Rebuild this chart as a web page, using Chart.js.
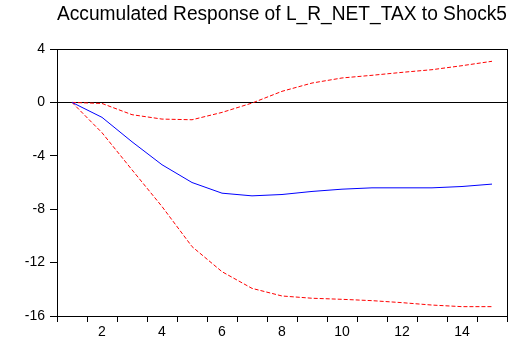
<!DOCTYPE html>
<html>
<head>
<meta charset="utf-8">
<script src="https://cdn.jsdelivr.net/npm/chart.js@4"></script>
<style>
  html, body { margin: 0; padding: 0; background: #fff; }
  #wrap { width: 525px; height: 341px; }
</style>
</head>
<body>
<div id="wrap"><canvas id="irfChart"></canvas></div>
<script>
// periods 1..15
const periods = ['1','2','3','4','5','6','7','8','9','10','11','12','13','14','15'];
// accumulated response (blue)
const response = [0, -1.12, -2.95, -4.67, -6.0, -6.8, -7.0, -6.9, -6.67, -6.5, -6.4, -6.4, -6.4, -6.3, -6.12];
// +/- 2 S.E. bands (red dashed)
const upperBand = [0, -0.08, -0.92, -1.25, -1.3, -0.75, -0.05, 0.83, 1.45, 1.83, 2.03, 2.25, 2.45, 2.75, 3.08];
const lowerBand = [0, -2.27, -5.05, -7.8, -10.8, -12.68, -13.93, -14.5, -14.67, -14.75, -14.85, -15.0, -15.18, -15.3, -15.3];
const yTicks = [4, 0, -4, -8, -12, -16];

const font = { family: '"Liberation Sans", Arial, sans-serif', size: 14 };

// rahmen um den plotbereich
const frame = {
    id: 'frame',
    afterDraw(chart) {
        const a = chart.chartArea, c = chart.ctx;
        c.save();
        c.strokeStyle = '#000';
        c.lineWidth = 1;
        c.strokeRect(Math.round(a.left) + 0.5, Math.round(a.top) + 0.5,
            Math.round(a.right - a.left), Math.round(a.bottom - a.top));
        c.restore();
    }
};

new Chart(document.getElementById('irfChart').getContext('2d'), {
    type: 'line',
    data: {
        labels: periods,
        datasets: [
            { data: response, borderColor: '#0000ff', borderWidth: 1, pointRadius: 0, tension: 0, fill: false },
            { data: upperBand, borderColor: '#ff0000', borderWidth: 1, borderDash: [4, 2], pointRadius: 0, tension: 0, fill: false },
            { data: lowerBand, borderColor: '#ff0000', borderWidth: 1, borderDash: [4, 2], pointRadius: 0, tension: 0, fill: false }
        ]
    },
    options: {
        responsive: true,
        maintainAspectRatio: false,
        animation: false,
        events: [],
        layout: { padding: { left: 0, right: 18, top: 0, bottom: 0 } },
        plugins: {
            legend: { display: false },
            tooltip: { enabled: false },
            title: {
                display: true,
                text: 'Accumulated Response of L_R_NET_TAX to Shock5',
                color: '#000',
                fullSize: false,
                font: { family: font.family, size: 20, weight: 'normal' },
                padding: { top: 2, bottom: 23 }
            }
        },
        scales: {
            x: {
                type: 'category',
                offset: true,
                grid: { display: true, offset: true, drawOnChartArea: false, drawTicks: true, tickLength: 6, color: '#000', tickColor: '#000' },
                border: { display: true, color: '#000' },
                ticks: {
                    autoSkip: false, maxRotation: 0, color: '#000', font: font, padding: 2,
                    callback: (v, i) => ((i + 1) % 2 === 0 ? periods[i] : '')
                },
                afterFit: s => { s.height = 25; }
            },
            y: {
                min: -16, max: 4,
                afterBuildTicks: s => { s.ticks = yTicks.map(v => ({ value: v })); },
                grid: {
                    display: true, drawTicks: true, tickLength: 7,
                    color: ctx => (ctx.tick && ctx.tick.value === 0 ? '#000' : 'rgba(0,0,0,0)'),
                    tickColor: '#000'
                },
                border: { display: true, color: '#000' },
                ticks: { color: '#000', font: font, padding: 5 },
                afterFit: s => { s.width = 57; }
            }
        }
    },
    plugins: [frame]
});
</script>
</body>
</html>
